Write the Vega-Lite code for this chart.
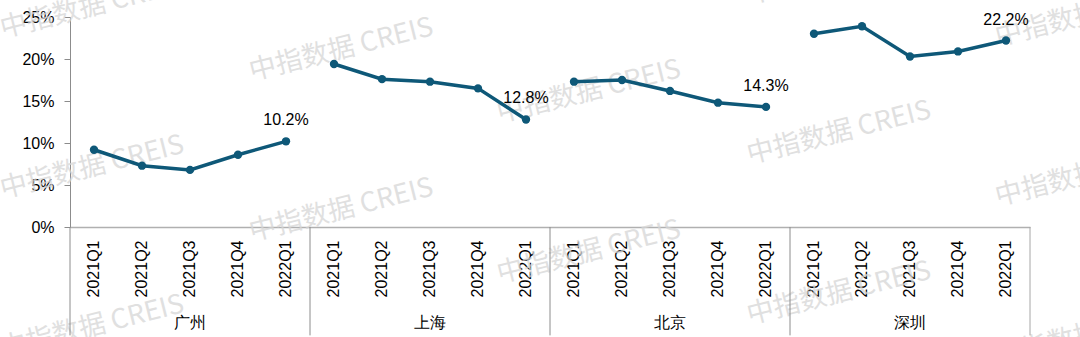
{
  "$schema": "https://vega.github.io/schema/vega-lite/v6.json",
  "autosize": {"type": "none"},
  "width": 960,
  "height": 210,
  "padding": {"left": 70, "top": 17, "right": 50, "bottom": 110},
  "background": "white",
  "config": {
    "view": {"stroke": null},
    "font": "Liberation Sans",
    "text": {"font": "Liberation Sans"}
  },
  "datasets": {
    "main": [
      {"city": "广州", "q": "2021Q1", "key": "广州|2021Q1", "v": 9.2},
      {"city": "广州", "q": "2021Q2", "key": "广州|2021Q2", "v": 7.3},
      {"city": "广州", "q": "2021Q3", "key": "广州|2021Q3", "v": 6.8},
      {"city": "广州", "q": "2021Q4", "key": "广州|2021Q4", "v": 8.6},
      {"city": "广州", "q": "2022Q1", "key": "广州|2022Q1", "v": 10.2},
      {"city": "上海", "q": "2021Q1", "key": "上海|2021Q1", "v": 19.4},
      {"city": "上海", "q": "2021Q2", "key": "上海|2021Q2", "v": 17.6},
      {"city": "上海", "q": "2021Q3", "key": "上海|2021Q3", "v": 17.3},
      {"city": "上海", "q": "2021Q4", "key": "上海|2021Q4", "v": 16.5},
      {"city": "上海", "q": "2022Q1", "key": "上海|2022Q1", "v": 12.8},
      {"city": "北京", "q": "2021Q1", "key": "北京|2021Q1", "v": 17.3},
      {"city": "北京", "q": "2021Q2", "key": "北京|2021Q2", "v": 17.5},
      {"city": "北京", "q": "2021Q3", "key": "北京|2021Q3", "v": 16.2},
      {"city": "北京", "q": "2021Q4", "key": "北京|2021Q4", "v": 14.8},
      {"city": "北京", "q": "2022Q1", "key": "北京|2022Q1", "v": 14.3},
      {"city": "深圳", "q": "2021Q1", "key": "深圳|2021Q1", "v": 23.0},
      {"city": "深圳", "q": "2021Q2", "key": "深圳|2021Q2", "v": 23.9},
      {"city": "深圳", "q": "2021Q3", "key": "深圳|2021Q3", "v": 20.3},
      {"city": "深圳", "q": "2021Q4", "key": "深圳|2021Q4", "v": 20.9},
      {"city": "深圳", "q": "2022Q1", "key": "深圳|2022Q1", "v": 22.2}
    ],
    "seps": [
      {"key": "广州|2021Q1", "y0": 0, "y1": -12.9},
      {"key": "上海|2021Q1", "y0": 0, "y1": -12.9},
      {"key": "北京|2021Q1", "y0": 0, "y1": -12.9},
      {"key": "深圳|2021Q1", "y0": 0, "y1": -12.9}
    ],
    "sepEnd": [
      {"key": "深圳|2022Q1", "y0": 0, "y1": -12.9}
    ],
    "cities": [
      {"key": "广州|2021Q3", "city": "广州", "y": -11.4},
      {"key": "上海|2021Q3", "city": "上海", "y": -11.4},
      {"key": "北京|2021Q3", "city": "北京", "y": -11.4},
      {"key": "深圳|2021Q3", "city": "深圳", "y": -11.4}
    ],
    "marks": [
      {"pos": 0.46, "y": 26.2, "t": "中指数据 CREIS"},
      {"pos": 0.46, "y": 7.1, "t": "中指数据 CREIS"},
      {"pos": 0.46, "y": -11.9, "t": "中指数据 CREIS"},
      {"pos": 5.65, "y": 21.1, "t": "中指数据 CREIS"},
      {"pos": 5.65, "y": 2.0, "t": "中指数据 CREIS"},
      {"pos": 10.81, "y": 16.1, "t": "中指数据 CREIS"},
      {"pos": 10.81, "y": -3.0, "t": "中指数据 CREIS"},
      {"pos": 16.02, "y": 30.2, "t": "中指数据 CREIS"},
      {"pos": 16.02, "y": 11.2, "t": "中指数据 CREIS"},
      {"pos": 16.02, "y": -7.9, "t": "中指数据 CREIS"},
      {"pos": 21.19, "y": 25.2, "t": "中指数据 CREIS"},
      {"pos": 21.19, "y": 6.2, "t": "中指数据 CREIS"},
      {"pos": 21.19, "y": -12.9, "t": "中指数据 CREIS"}
    ]
  },
  "layer": [
    {
      "data": {"name": "marks"},
      "mark": {"type": "text", "font": "Noto Sans CJK SC", "fontSize": 27, "fontWeight": "normal", "angle": -14, "color": "#d6d6d6", "opacity": 0.75, "align": "center", "baseline": "middle"},
      "encoding": {
        "x": {"field": "pos", "type": "quantitative", "scale": {"domain": [0, 20], "nice": false, "zero": false}, "axis": null},
        "y": {"field": "y", "type": "quantitative", "axis": {"title": null}},
        "text": {"field": "t"}
      }
    },
    {
      "layer": [
        {
          "data": {"name": "seps"},
          "mark": {"type": "rule", "color": "#8c8c8c", "strokeWidth": 1},
          "encoding": {
            "x": {"field": "key", "type": "ordinal", "bandPosition": 0},
            "y": {"field": "y0", "type": "quantitative"},
            "y2": {"field": "y1"}
          }
        },
        {
          "data": {"name": "sepEnd"},
          "mark": {"type": "rule", "color": "#a6a6a6", "strokeWidth": 1},
          "encoding": {
            "x": {"field": "key", "type": "ordinal", "bandPosition": 1},
            "y": {"field": "y0", "type": "quantitative"},
            "y2": {"field": "y1"}
          }
        },
        {
          "data": {"name": "cities"},
          "mark": {"type": "text", "fontSize": 16, "color": "#000000", "baseline": "middle"},
          "encoding": {
            "x": {"field": "key", "type": "ordinal"},
            "y": {"field": "y", "type": "quantitative"},
            "text": {"field": "city"}
          }
        },
        {
          "data": {"name": "main"},
          "mark": {"type": "line", "color": "#0e5878", "strokeWidth": 3.5},
          "encoding": {
            "x": {
              "field": "key",
              "type": "ordinal",
              "scale": {
                "domain": ["广州|2021Q1","广州|2021Q2","广州|2021Q3","广州|2021Q4","广州|2022Q1",
                           "上海|2021Q1","上海|2021Q2","上海|2021Q3","上海|2021Q4","上海|2022Q1",
                           "北京|2021Q1","北京|2021Q2","北京|2021Q3","北京|2021Q4","北京|2022Q1",
                           "深圳|2021Q1","深圳|2021Q2","深圳|2021Q3","深圳|2021Q4","深圳|2022Q1"],
                "type": "band",
                "paddingInner": 0,
                "paddingOuter": 0
              },
              "axis": {
                "title": null,
                "labelExpr": "split(datum.value, '|')[1]",
                "labelAngle": -90,
                "labelFontSize": 16,
                "labelColor": "#000000",
                "labelPadding": 13,
                "ticks": false,
                "domainColor": "#b0b0b0",
                "domainWidth": 1.5
              }
            },
            "y": {
              "field": "v",
              "type": "quantitative",
              "scale": {"domain": [0, 25], "nice": false, "zero": true},
              "axis": {
                "title": null,
                "values": [0, 5, 10, 15, 20, 25],
                "labelExpr": "datum.value + '%'",
                "labelFontSize": 16,
                "labelColor": "#000000",
                "labelPadding": 10,
                "tickSize": 6,
                "tickColor": "#8c8c8c",
                "domainColor": "#8c8c8c",
                "grid": false
              }
            },
            "detail": {"field": "city"}
          }
        },
        {
          "data": {"name": "main"},
          "mark": {"type": "point", "filled": true, "opacity": 1, "color": "#0e5878", "size": 70},
          "encoding": {
            "x": {"field": "key", "type": "ordinal"},
            "y": {"field": "v", "type": "quantitative"}
          }
        },
        {
          "data": {"name": "main"},
          "transform": [
            {"filter": "datum.q === '2022Q1'"},
            {"calculate": "format(datum.v, '.1f') + '%'", "as": "lbl"}
          ],
          "mark": {"type": "text", "fontSize": 16, "color": "#000000", "dy": -21, "baseline": "middle"},
          "encoding": {
            "x": {"field": "key", "type": "ordinal"},
            "y": {"field": "v", "type": "quantitative"},
            "text": {"field": "lbl"}
          }
        }
      ]
    }
  ],
  "resolve": {"scale": {"x": "independent"}}
}
